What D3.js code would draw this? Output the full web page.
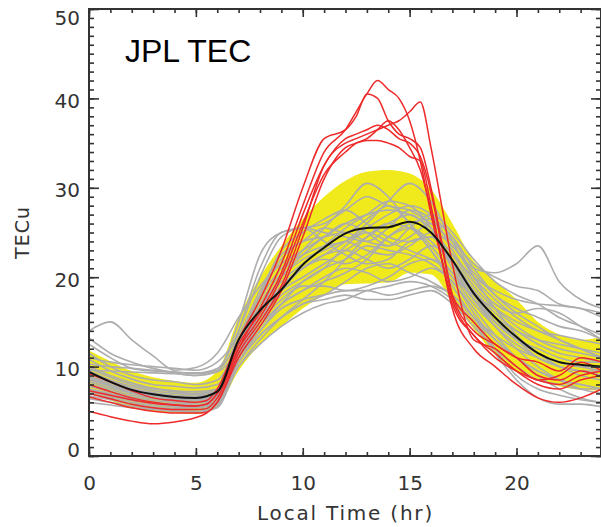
<!DOCTYPE html>
<html>
<head>
<meta charset="utf-8">
<script src="https://cdn.jsdelivr.net/npm/d3@7"></script>
<style>
  html, body { margin: 0; padding: 0; background: #fff; }
  svg { display: block; }
</style>
</head>
<body>
<svg id="chart" width="601" height="527"></svg>
<script>
// ---------------- DATA ----------------
const title = "JPL TEC";
const xLabel = "Local Time (hr)";
const yLabel = "TECu";
const xMajorTicks = [0, 5, 10, 15, 20];
const yMajorTicks = [0, 10, 20, 30, 40, 50];

const hours = [0,1,2,3,4,5,6,7,8,9,10,11,12,13,14,15,16,17,18,19,20,21,22,23,24];

const meanTEC  = [9.4,8.3,7.4,6.9,6.6,6.5,7.2,13.0,16.3,18.6,21.4,23.3,24.9,25.5,25.6,26.2,25.0,21.9,18.2,15.5,13.3,11.5,10.5,10.2,10.0];
const bandUpper= [11.8,10.6,9.5,8.8,8.4,8.2,9.5,15.5,20.0,23.5,26.5,29.0,30.8,31.8,32.0,31.6,29.8,26.0,21.8,19.6,17.5,15.0,13.6,13.0,13.3];
const bandLower= [7.2,6.2,5.4,5.0,4.8,4.7,5.5,9.5,12.5,14.5,16.5,18.0,19.2,19.3,19.4,20.5,20.3,17.3,14.2,11.3,9.5,8.6,7.8,7.4,7.3];

const grayCurves = [
  [14.0,15.0,13.0,11.2,9.6,9.9,11.5,15.5,19.0,21.5,23.0,24.5,26.0,27.0,27.5,27.0,25.5,22.5,20.0,18.5,17.5,17.0,16.8,16.5,16.0],
  [13.2,11.5,10.5,9.8,9.3,9.0,9.5,15.0,22.5,25.0,25.5,26.0,27.5,29.0,28.0,27.5,26.0,24.0,21.5,20.0,19.0,18.5,17.0,16.5,15.5],
  [12.5,11.0,9.8,9.5,9.4,9.2,9.6,13.0,18.0,22.0,24.0,24.5,25.0,24.0,23.5,25.5,27.0,25.0,22.0,19.5,18.0,17.0,15.5,14.5,13.5],
  [11.5,10.0,9.0,8.5,8.3,8.0,8.5,12.5,17.5,21.0,22.5,23.5,24.0,25.5,27.0,28.0,27.0,23.0,19.5,17.0,16.0,16.5,16.0,14.5,13.0],
  [10.8,9.5,8.6,8.0,7.8,7.6,8.0,12.0,16.0,19.0,21.0,22.5,24.0,26.0,28.5,30.5,28.5,24.0,20.0,17.5,15.5,14.0,13.5,13.0,12.5],
  [10.3,10.0,9.8,9.6,9.4,9.3,9.8,14.0,20.0,24.5,25.5,25.0,24.5,24.0,25.5,27.5,26.5,23.5,21.0,20.5,21.5,23.5,19.5,17.5,16.5],
  [10.0,9.0,8.2,7.6,7.3,7.2,7.5,11.5,15.5,18.5,20.0,21.5,23.0,24.5,26.0,27.0,25.0,21.0,17.5,15.5,14.0,13.0,12.5,12.0,11.5],
  [9.8,8.8,8.0,7.5,7.2,7.0,7.4,14.0,21.0,25.0,25.5,24.0,22.5,21.5,22.0,24.0,24.5,21.5,18.0,15.0,13.0,12.0,11.0,10.5,10.5],
  [9.5,8.5,7.8,7.3,7.0,6.9,7.2,11.0,14.5,17.0,18.5,19.5,20.5,22.0,24.5,26.0,26.5,24.5,21.0,18.0,16.0,14.5,13.0,12.0,11.0],
  [9.3,8.4,7.6,7.1,6.8,6.7,7.0,11.5,15.0,17.5,19.0,19.0,18.5,19.0,20.0,21.5,22.0,20.0,17.0,14.5,12.5,11.0,10.0,9.5,9.5],
  [9.0,8.2,7.5,7.0,6.7,6.6,6.9,12.0,17.0,20.5,23.0,25.5,28.0,30.5,29.0,26.0,23.5,20.5,17.5,15.0,13.0,11.5,10.5,10.0,10.0],
  [8.8,8.0,7.3,6.9,6.6,6.5,6.8,11.0,14.0,16.5,17.5,18.0,18.5,18.5,18.0,18.5,19.0,18.0,15.5,13.5,12.0,11.0,10.0,9.5,9.0],
  [8.5,7.8,7.1,6.7,6.4,6.3,6.6,12.0,16.5,19.5,21.5,23.5,25.5,27.0,28.5,28.0,25.5,21.5,17.5,15.0,13.0,11.5,10.5,10.0,9.5],
  [8.3,7.6,7.0,6.5,6.3,6.2,6.5,10.5,13.5,15.5,17.0,17.5,18.0,17.5,17.5,18.0,18.5,17.0,14.5,12.0,10.0,8.5,8.0,7.5,7.5],
  [8.0,7.4,6.8,6.4,6.1,6.0,6.4,11.5,16.0,19.0,21.0,22.0,21.5,22.5,24.5,25.5,24.0,21.5,18.5,16.0,14.0,12.5,11.5,11.0,10.5],
  [7.8,7.2,6.6,6.2,6.0,5.9,6.3,12.5,18.0,23.0,25.0,26.5,27.5,26.0,24.5,24.0,24.5,22.5,19.0,16.5,14.5,13.0,12.0,11.5,11.0],
  [7.5,7.0,6.4,6.0,5.8,5.7,6.1,11.0,14.5,17.0,18.5,20.0,21.0,20.5,19.5,20.0,21.0,19.5,16.0,13.0,11.0,9.5,8.5,8.0,7.5],
  [7.2,6.7,6.2,5.9,5.6,5.5,6.0,10.5,13.5,15.5,17.0,18.0,19.5,21.0,21.5,20.5,19.5,18.0,15.5,12.0,9.0,7.5,6.8,6.3,6.0],
  [7.0,6.5,6.0,5.7,5.5,5.4,5.9,11.0,15.0,18.5,21.0,22.5,23.0,22.0,21.0,22.0,23.5,22.0,18.5,15.5,13.0,11.0,10.0,9.5,9.0],
  [6.7,6.3,5.8,5.5,5.3,5.2,5.7,10.0,13.0,15.5,17.5,19.5,22.0,24.5,26.0,25.5,23.0,19.0,15.5,13.0,11.0,9.5,8.5,8.0,7.5],
  [6.4,6.0,5.6,5.3,5.1,5.0,5.5,10.5,14.0,17.0,19.5,21.0,22.0,23.5,23.0,22.5,21.5,19.5,16.5,13.5,11.0,9.0,7.5,6.5,6.0],
  [6.0,5.7,5.4,5.2,5.0,4.9,5.4,11.0,16.0,20.0,22.5,24.5,26.0,25.0,23.5,24.5,26.0,24.5,20.0,16.5,13.5,11.5,10.0,9.0,8.5],
  [11.0,10.5,10.2,10.0,9.8,9.6,10.5,13.5,18.5,22.5,24.0,25.5,25.0,26.5,28.0,26.0,23.0,20.0,18.0,16.5,15.0,14.0,13.0,12.0,11.0],
  [9.6,9.5,9.4,9.3,9.2,9.0,9.4,12.0,16.5,20.0,22.0,23.0,24.0,23.0,22.5,23.5,25.0,23.5,20.5,18.0,16.5,15.5,14.5,14.0,13.0],
  [8.6,7.9,7.2,6.8,6.5,6.4,6.7,11.5,15.5,18.0,19.5,21.0,23.5,25.0,24.0,23.0,22.0,20.5,17.5,14.5,12.0,10.0,8.5,7.5,7.0],
  [7.4,6.9,6.3,5.9,5.7,5.6,6.0,10.0,12.5,14.5,16.0,17.0,17.5,18.5,19.0,19.5,19.0,17.5,15.0,11.5,8.5,6.5,5.8,5.8,5.5]
];

const redHours = [0,1,2,3,4,5,5.5,6,7,8,9,10,11,12,12.5,13,13.5,14,14.5,15,15.5,16,16.5,17,18,19,20,21,22,23,24];
const redCurves = [
  [7.0,6.4,5.8,5.4,5.2,5.2,5.3,6.5,12.0,16.5,21.5,28.0,34.0,36.5,38.5,40.5,42.0,41.0,40.0,37.5,33.0,27.0,22.0,17.5,13.5,11.5,9.5,8.0,7.5,8.5,9.0],
  [9.2,8.3,7.3,6.5,6.2,6.0,6.2,7.5,13.0,17.5,23.0,30.0,35.5,36.5,38.0,40.5,40.0,37.5,36.0,35.5,34.5,30.0,24.0,18.0,14.0,12.5,11.0,10.5,9.5,11.0,10.5],
  [6.6,6.0,5.4,5.0,4.8,4.8,4.9,6.0,11.5,15.0,19.0,25.5,32.5,35.0,35.5,36.0,36.5,37.0,37.5,38.5,39.6,34.5,28.0,21.5,13.0,12.0,10.0,8.5,9.0,10.5,9.5],
  [5.0,4.4,3.9,3.6,3.8,4.3,4.8,6.0,11.0,14.5,18.5,24.5,31.0,34.5,35.0,35.3,35.3,35.0,34.5,33.5,33.0,28.0,22.0,16.5,12.0,10.0,8.0,6.5,6.0,6.5,7.5],
  [7.3,6.8,6.3,5.9,5.7,5.6,5.8,7.0,12.5,16.0,20.5,27.0,32.5,35.5,36.0,36.5,37.0,36.5,35.5,35.0,33.5,29.5,23.5,18.0,15.0,12.5,11.0,9.0,8.5,9.5,8.8],
  [8.0,7.2,6.5,6.0,5.7,5.6,5.8,7.0,12.0,15.5,20.0,26.0,31.5,34.0,35.0,35.5,36.5,37.5,36.5,34.5,32.0,27.5,22.0,17.0,13.5,11.0,9.5,8.5,8.0,9.0,9.5]
];

// ---------------- CHART ----------------
const svg = d3.select("#chart");
const pL = 89, pR = 602, pT = 9, pB = 456;
const x = d3.scaleLinear().domain([0, 24]).range([pL, pR]);
const y = d3.scaleLinear().domain([0, 50]).range([pB, pT]);

svg.append("defs").append("clipPath").attr("id", "plotclip")
  .append("rect").attr("x", pL).attr("y", pT).attr("width", pR - pL).attr("height", pB - pT);

const plot = svg.append("g").attr("clip-path", "url(#plotclip)");

// band
const area = d3.area()
  .x((d, i) => x(hours[i]))
  .y0((d, i) => y(bandLower[i]))
  .y1((d, i) => y(bandUpper[i]))
  .curve(d3.curveMonotoneX);
plot.append("path").datum(bandUpper).attr("d", area)
  .attr("fill", "#f0ea1c").attr("stroke", "none");

const lineH = d3.line().x((d, i) => x(hours[i])).y(d => y(d)).curve(d3.curveMonotoneX);
const lineR = d3.line().x((d, i) => x(redHours[i])).y(d => y(d)).curve(d3.curveMonotoneX);

plot.selectAll("path.gray").data(grayCurves).join("path")
  .attr("class", "gray").attr("d", lineH)
  .attr("fill", "none").attr("stroke", "#adadad").attr("stroke-width", 1.6);

plot.selectAll("path.red").data(redCurves).join("path")
  .attr("class", "red").attr("d", lineR)
  .attr("fill", "none").attr("stroke", "#ee2a2a").attr("stroke-width", 1.5);

plot.append("path").datum(meanTEC).attr("d", lineH)
  .attr("fill", "none").attr("stroke", "#111").attr("stroke-width", 2);

// axes
const axisColor = "#333";
const fontFam = "'DejaVu Sans', sans-serif";
function styleAxis(g) {
  g.select(".domain").remove();
  g.selectAll(".tick line").attr("stroke", axisColor).attr("stroke-width", 1.6);
  g.selectAll("text").attr("fill", "#333").style("font-family", fontFam).style("font-size", "20px");
}
const xMinor = d3.range(0, 25, 1);
const yMinor = d3.range(0, 51, 1);

// bottom
svg.append("g").attr("transform", `translate(0,${pB})`)
  .call(d3.axisBottom(x).tickValues(xMinor).tickSize(-4).tickFormat(""))
  .call(styleAxis);
svg.append("g").attr("transform", `translate(0,${pB})`)
  .call(d3.axisBottom(x).tickValues(xMajorTicks).tickSize(-8).tickPadding(20).tickFormat(d3.format("d")))
  .call(styleAxis);
// top
svg.append("g").attr("transform", `translate(0,${pT})`)
  .call(d3.axisTop(x).tickValues(xMinor).tickSize(-4).tickFormat(""))
  .call(styleAxis);
svg.append("g").attr("transform", `translate(0,${pT})`)
  .call(d3.axisTop(x).tickValues(xMajorTicks).tickSize(-8).tickFormat(""))
  .call(styleAxis);
// left
svg.append("g").attr("transform", `translate(${pL},0)`)
  .call(d3.axisLeft(y).tickValues(yMinor).tickSize(-5).tickFormat(""))
  .call(styleAxis);
const yAx = svg.append("g").attr("transform", `translate(${pL},0)`)
  .call(d3.axisLeft(y).tickValues(yMajorTicks).tickSize(-10).tickPadding(9).tickFormat(d3.format("d")))
  .call(styleAxis);
yAx.selectAll(".tick text").attr("dy", d => d === 50 ? "0.78em" : (d === 0 ? "0.02em" : "0.45em"));
// right
svg.append("g").attr("transform", `translate(${pR - 1},0)`)
  .call(d3.axisRight(y).tickValues(yMinor).tickSize(-5).tickFormat(""))
  .call(styleAxis);
svg.append("g").attr("transform", `translate(${pR - 1},0)`)
  .call(d3.axisRight(y).tickValues(yMajorTicks).tickSize(-10).tickFormat(""))
  .call(styleAxis);

// frame
svg.append("rect").attr("x", pL).attr("y", pT).attr("width", pR - 1 - pL).attr("height", pB - pT)
  .attr("fill", "none").attr("stroke", axisColor).attr("stroke-width", 2);

// labels
svg.append("text").attr("x", (pL + pR) / 2).attr("y", 520)
  .attr("text-anchor", "middle").attr("fill", "#333")
  .style("font-family", fontFam).style("font-size", "20px").style("letter-spacing", "1.8px")
  .text(xLabel);
svg.append("text").attr("transform", `translate(29,${(pT + pB) / 2}) rotate(-90)`)
  .attr("text-anchor", "middle").attr("fill", "#333")
  .style("font-family", fontFam).style("font-size", "19px").style("letter-spacing", "1px")
  .text(yLabel);
svg.append("text").attr("x", 125).attr("y", 62)
  .attr("fill", "#000")
  .style("font-family", "'Liberation Sans', Arial, sans-serif").style("font-size", "32px")
  .text(title);
</script>
</body>
</html>
